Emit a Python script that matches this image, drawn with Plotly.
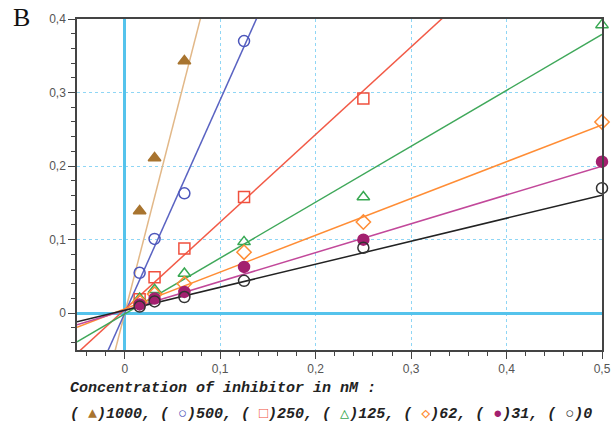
import plotly.graph_objects as go

# ---------------- data ----------------
x_inv = [0.015625, 0.03125, 0.0625, 0.125, 0.25, 0.5]

y_1000 = [0.139, 0.211, 0.343]
y_500 = [0.055, 0.101, 0.163, 0.370]
y_250 = [0.019, 0.049, 0.088, 0.158, 0.292]
y_125 = [0.020, 0.032, 0.054, 0.097, 0.158, 0.392]
y_62 = [0.015, 0.026, 0.040, 0.083, 0.124, 0.260]
y_31 = [0.012, 0.020, 0.029, 0.063, 0.100, 0.206]
y_0 = [0.009, 0.016, 0.022, 0.044, 0.089, 0.170]

series_names = ["1000", "500", "250", "125", "62", "31", "0"]
series_y = [y_1000, y_500, y_250, y_125, y_62, y_31, y_0]
fit_slope = [5.05, 2.90, 1.19, 0.76, 0.50, 0.392, 0.313]
fit_intercept = [0.0, 0.0, 0.005, -0.001, 0.006, 0.004, 0.004]

x_ticks = [0, 0.1, 0.2, 0.3, 0.4, 0.5]
x_ticklabels = ["0", "0,1", "0,2", "0,3", "0,4", "0,5"]
y_ticks = [0, 0.1, 0.2, 0.3, 0.4]
y_ticklabels = ["0", "0,1", "0,2", "0,3", "0,4"]
x_range = [-0.05, 0.5]
y_range = [-0.05, 0.4]

# ---------------- styles ----------------
line_colors = ["#e2b888", "#5a63c2", "#f25a47", "#3fa85a", "#ff8d35", "#c2489a", "#222222"]
marker_colors = ["#a8742f", "#4c56bb", "#f0503e", "#38a852", "#ff8d35", "#a3206f", "#333333"]
marker_symbols = ["triangle-up", "circle-open", "square-open", "triangle-up-open",
                  "diamond-open", "circle", "circle-open"]
legend_glyphs = ["▲", "○", "□", "△", "◇", "●", "○"]

fig = go.Figure()

for name, ys, s, b, lc in zip(series_names, series_y, fit_slope, fit_intercept, line_colors):
    fig.add_trace(go.Scatter(
        x=x_range, y=[s * x_range[0] + b, s * x_range[1] + b],
        mode="lines", line=dict(color=lc, width=1.5),
        showlegend=False, hoverinfo="skip"))

for name, ys, mc, sym in zip(series_names, series_y, marker_colors, marker_symbols):
    fig.add_trace(go.Scatter(
        x=x_inv[:len(ys)], y=ys, mode="markers", name=name,
        marker=dict(symbol=sym, size=11, color=mc, line=dict(color=mc, width=1.5)),
        cliponaxis=False, showlegend=False))

axis_common = dict(
    showline=True, linecolor="#444444", linewidth=1.5, mirror=True,
    ticks="outside", ticklen=7, tickcolor="#444444", tickwidth=1,
    showgrid=True, gridcolor="#8fd6f5", griddash="dot", gridwidth=1,
    zeroline=True, zerolinecolor="#55c3ec", zerolinewidth=3,
    automargin=False,
    tickfont=dict(family="Liberation Sans, Arial, sans-serif", size=12, color="#555555"),
    minor=dict(dtick=0.02, ticks="outside", ticklen=4, tickcolor="#444444", showgrid=False),
)

fig.update_xaxes(range=x_range, tickvals=x_ticks, ticktext=x_ticklabels, **axis_common)
fig.update_yaxes(range=y_range, tickvals=y_ticks, ticktext=y_ticklabels, **axis_common)

# legend text
glyph_parts = []
for name, g, mc in zip(series_names, legend_glyphs, marker_colors):
    glyph_parts.append("( <span style='color:%s'>%s</span>)%s" % (mc, g, name))
legend_line = ", ".join(glyph_parts)

mono = "Liberation Mono, Courier New, monospace"
fig.add_annotation(xref="paper", yref="paper", x=-0.018, y=-0.115, xanchor="left", yanchor="middle",
                   text="<b><i>Concentration of inhibitor in nM :</i></b>", showarrow=False,
                   font=dict(family=mono, size=15, color="#222222"))
fig.add_annotation(xref="paper", yref="paper", x=-0.018, y=-0.195, xanchor="left", yanchor="middle",
                   text="<b><i>" + legend_line + "</i></b>", showarrow=False,
                   font=dict(family=mono, size=15, color="#222222"))
fig.add_annotation(xref="paper", yref="paper", x=-0.105, y=1.005, xanchor="center", yanchor="middle",
                   text="B", showarrow=False,
                   font=dict(family="Liberation Serif, Times New Roman, serif", size=26, color="#111111"))

fig.update_layout(
    width=611, height=434,
    margin=dict(l=77, r=9, t=19, b=84, autoexpand=False),
    paper_bgcolor="white", plot_bgcolor="white",
    showlegend=False,
)

fig.write_html("out.html", config={"displayModeBar": False},
               post_script="document.body.style.margin='0px';document.body.style.padding='0px';")
